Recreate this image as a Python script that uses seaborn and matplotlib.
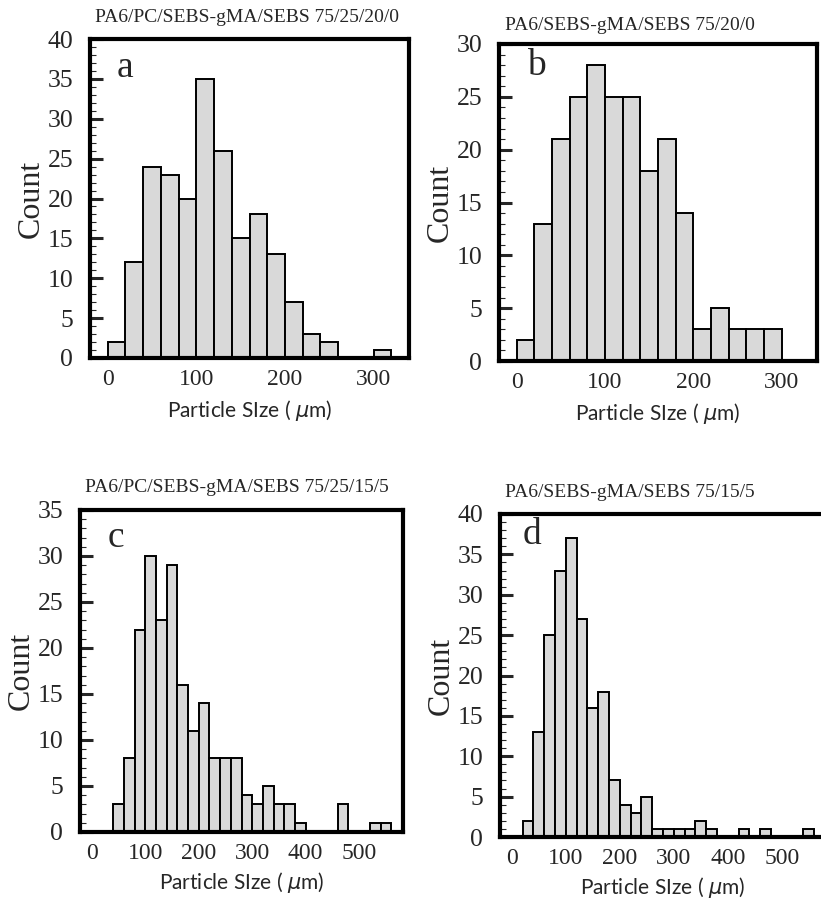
import numpy as np
import pandas as pd
import matplotlib
matplotlib.use("Agg")
import matplotlib.pyplot as plt
from matplotlib.ticker import MultipleLocator
import seaborn as sns

# Histogram counts per 20 um bin (left edge of first bin given separately)
a_start = 0
a_counts = [2, 12, 24, 23, 20, 35, 26, 15, 18, 13, 7, 3, 2, 0, 0, 1]

b_start = 0
b_counts = [2, 13, 21, 25, 28, 25, 25, 18, 21, 14, 3, 5, 3, 3, 3]

c_start = 40
c_counts = [3, 8, 22, 30, 23, 29, 16, 11, 14, 8, 8, 8, 4, 3, 5, 3, 3, 1,
            0, 0, 0, 3, 0, 0, 1, 1]

d_start = 20
d_counts = [2, 13, 25, 33, 37, 27, 16, 18, 7, 4, 3, 5, 1, 1, 1, 1, 2, 1,
            0, 0, 1, 0, 1, 0, 0, 0, 1]

titles = ["PA6/PC/SEBS-gMA/SEBS 75/25/20/0",
          "PA6/SEBS-gMA/SEBS 75/20/0",
          "PA6/PC/SEBS-gMA/SEBS 75/25/15/5",
          "PA6/SEBS-gMA/SEBS 75/15/5"]
letters = ["a", "b", "c", "d"]
y_tops = [40, 30, 35, 40]
x_ticks_ab = [0, 100, 200, 300]
x_ticks_cd = [0, 100, 200, 300, 400, 500]
bin_width = 20

W, H = 821, 898
sns.set_theme(style="white")
plt.rcParams["font.family"] = ["Liberation Serif", "DejaVu Serif"]

fig = plt.figure(figsize=(W / 100, H / 100), dpi=100)
fig.patch.set_facecolor("white")


def px_axes(left, top, right, bottom):
    return fig.add_axes([left / W, 1 - bottom / H, (right - left) / W, (bottom - top) / H])


# pixel boxes: left, top, right, bottom
boxes = [(90, 39, 409, 358), (499, 44, 817, 361), (80, 510, 403, 832), (500, 514, 826, 837)]
xlims = [(-20, 340), (-20, 340), (-22, 582), (-22, 582)]
title_pos = [(95, 18), (505, 25), (85, 488), (505, 492)]
letter_pos = [(0.085, 0.91), (0.088, 0.93), (0.087, 0.915), (0.068, 0.935)]
series = [(a_start, a_counts), (b_start, b_counts), (c_start, c_counts), (d_start, d_counts)]
xticks = [x_ticks_ab, x_ticks_ab, x_ticks_cd, x_ticks_cd]
xlabel_pads = [6, 6, 4, 4]

for i, (box, (start, counts)) in enumerate(zip(boxes, series)):
    ax = px_axes(*box)
    edges = [start + bin_width * k for k in range(len(counts) + 1)]
    df = pd.DataFrame({"size": [e + bin_width / 2 for e in edges[:-1]], "count": counts})
    sns.histplot(data=df, x="size", weights="count", bins=edges, ax=ax,
                 color="#d9d9d9", edgecolor="black", linewidth=1.4, alpha=1.0)
    ax.set_xlim(*xlims[i])
    ax.set_ylim(0, y_tops[i])
    ax.set_xticks(xticks[i])
    ax.yaxis.set_major_locator(MultipleLocator(5))
    ax.yaxis.set_minor_locator(MultipleLocator(1))
    ax.tick_params(axis="y", which="major", direction="in", length=9, width=2.2,
                   labelsize=18.5, pad=12, left=True, right=False)
    ax.tick_params(axis="y", which="minor", direction="in", length=4.5, width=0.8,
                   left=True, right=False)
    ax.tick_params(axis="x", which="both", length=0, labelsize=17, pad=8)
    for sp in ax.spines.values():
        sp.set_visible(True)
        sp.set_linewidth(3.0)
        sp.set_color("black")
    ax.set_ylabel("Count", fontsize=23, labelpad=1)
    ax.set_xlabel("Particle SIze ( $\\mu$m)", fontsize=15, labelpad=xlabel_pads[i],
                  family=["Lato", "DejaVu Sans"])
    ax.text(letter_pos[i][0], letter_pos[i][1], letters[i], transform=ax.transAxes,
            fontsize=27, ha="left", va="center")
    fig.text(title_pos[i][0] / W, 1 - title_pos[i][1] / H, titles[i],
             fontsize=14, ha="left", va="center")

fig.savefig("out.png", dpi=100, facecolor="white")
